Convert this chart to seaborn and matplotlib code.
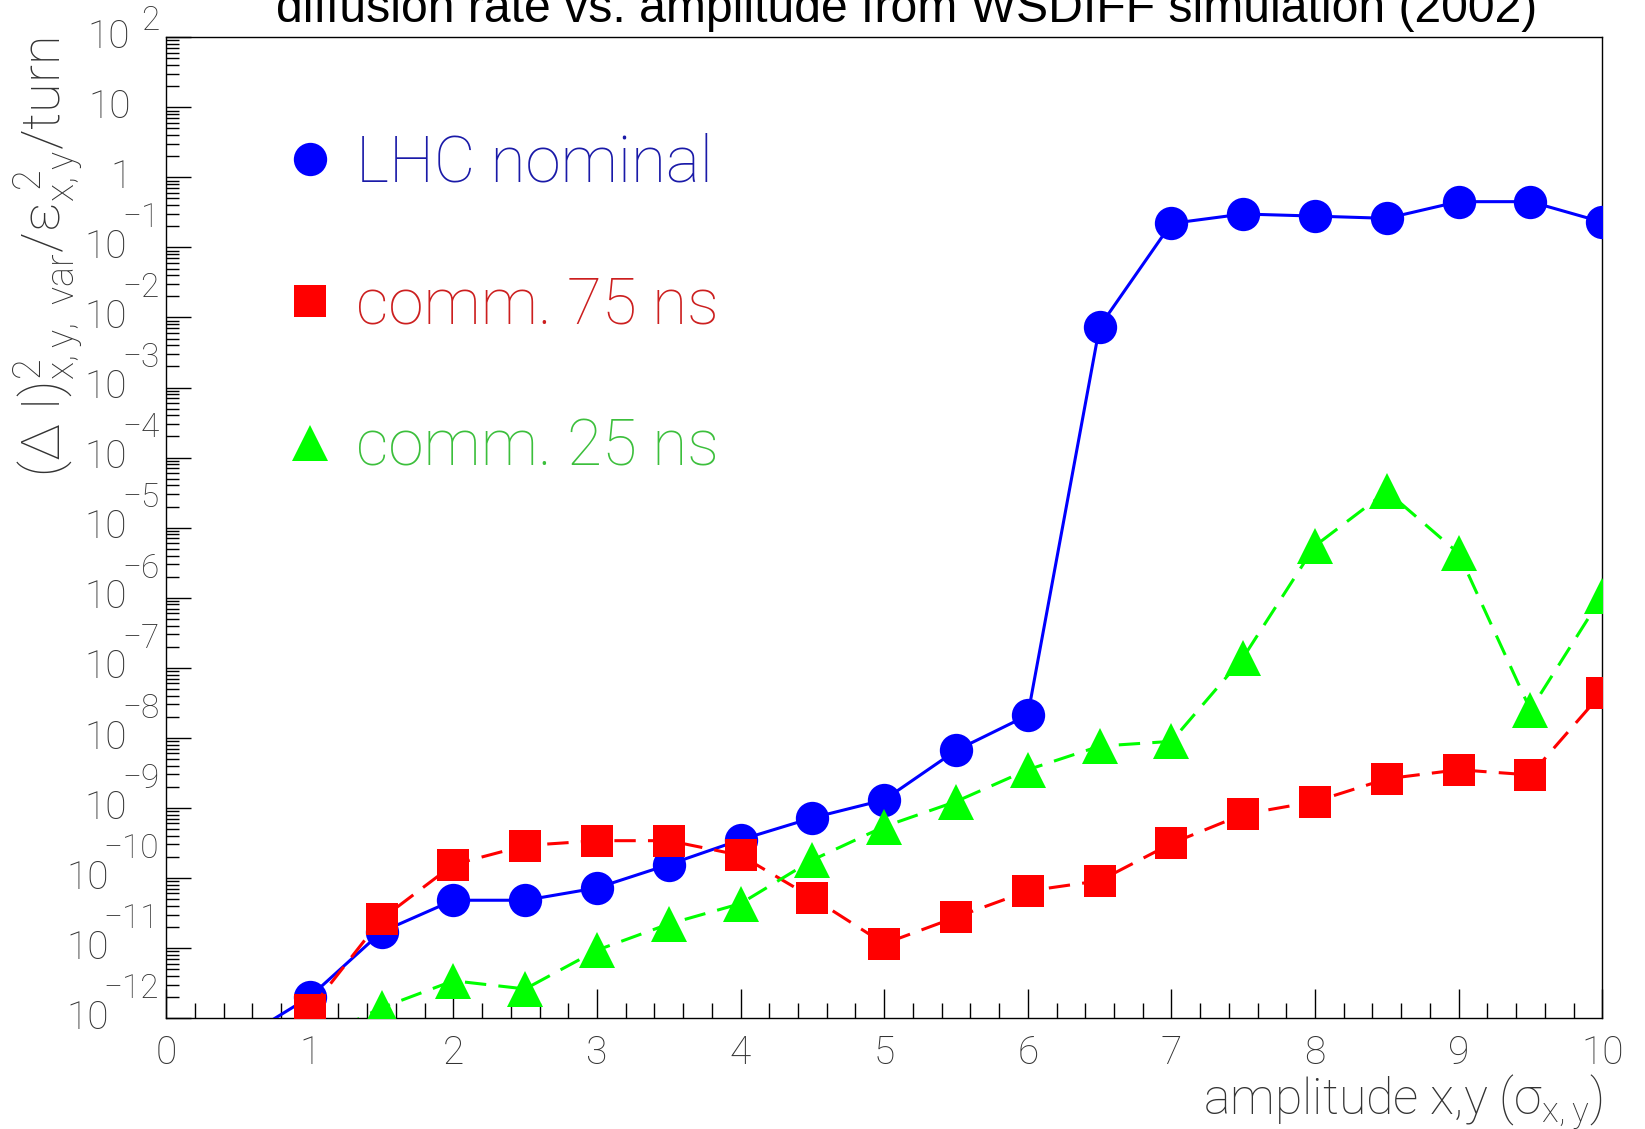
import numpy as np
import pandas as pd
import matplotlib
matplotlib.use("Agg")
import matplotlib.pyplot as plt
import seaborn as sns
from matplotlib.lines import Line2D
from matplotlib.ticker import LogLocator, MultipleLocator, NullFormatter
from matplotlib.font_manager import FontProperties

# ---- data -------------------------------------------------------------
amplitude_lhc = [0.5, 1.0, 1.5, 2.0, 2.5, 3.0, 3.5, 4.0, 4.5, 5.0, 5.5,
                 6.0, 6.5, 7.0, 7.5, 8.0, 8.5, 9.0, 9.5, 10.0]
rate_lhc = [4.7e-13, 2.0e-12, 1.7e-11, 4.8e-11, 4.8e-11, 7.2e-11, 1.55e-10,
            3.5e-10, 7.2e-10, 1.3e-9, 6.6e-9, 2.1e-8, 7.4e-3, 0.22, 0.30,
            0.28, 0.26, 0.45, 0.45, 0.23]

amplitude_75 = [1.0, 1.5, 2.0, 2.5, 3.0, 3.5, 4.0, 4.5, 5.0, 5.5,
                6.0, 6.5, 7.0, 7.5, 8.0, 8.5, 9.0, 9.5, 10.0]
rate_75 = [1.3e-12, 2.6e-11, 1.55e-10, 2.9e-10, 3.4e-10, 3.4e-10, 2.1e-10,
           5.2e-11, 1.15e-11, 2.75e-11, 6.5e-11, 9.1e-11, 3.1e-10, 8.1e-10,
           1.23e-9, 2.6e-9, 3.5e-9, 2.95e-9, 4.4e-8]

amplitude_25 = [1.0, 1.5, 2.0, 2.5, 3.0, 3.5, 4.0, 4.5, 5.0, 5.5,
                6.0, 6.5, 7.0, 7.5, 8.0, 8.5, 9.0, 9.5, 10.0]
rate_25 = [4.5e-13, 1.4e-12, 3.4e-12, 2.6e-12, 9.3e-12, 2.2e-11, 4.3e-11,
           1.8e-10, 5.4e-10, 1.23e-9, 3.5e-9, 7.6e-9, 8.9e-9, 1.4e-7,
           5.5e-6, 3.3e-5, 4.3e-6, 2.5e-8, 1.05e-6]

series_names = ["LHC nominal", "comm. 75 ns", "comm. 25 ns"]
series_x = [amplitude_lhc, amplitude_75, amplitude_25]
series_y = [rate_lhc, rate_75, rate_25]

x_ticks = [0, 1, 2, 3, 4, 5, 6, 7, 8, 9, 10]
y_decades = list(range(-12, 3))

title_text = "diffusion rate vs. amplitude from WSDIFF simulation (2002)"
x_title = r"amplitude x,y (σ$_{\mathrm{x,y}}$)"
y_title = r"(Δ I)$^{2}_{\mathrm{x,y,\ var}}$/ε$_{\mathrm{x,y}}^{\ 2}$/turn"

# ---- styling ----------------------------------------------------------
line_colors = ["#0000ff", "#ff0000", "#00ff00"]
text_colors = ["#1a1aa8", "#cc1f1f", "#3cbf3c"]
markers = ["o", "s", "^"]
marker_sizes = [24, 23, 26]
line_dashes = ["", (7, 4), (7, 4)]
label_gray = "#333333"
ui_font = "Roboto"
ui_weight = 100

plt.rcParams["font.family"] = [ui_font, "DejaVu Sans"]
plt.rcParams["font.weight"] = ui_weight
plt.rcParams["mathtext.fontset"] = "custom"
plt.rcParams["mathtext.rm"] = f"{ui_font}:weight={ui_weight}"
plt.rcParams["mathtext.it"] = f"{ui_font}:weight={ui_weight}"
plt.rcParams["mathtext.bf"] = f"{ui_font}:weight={ui_weight}"

fig = plt.figure(figsize=(16.45, 11.29), dpi=100)
fig.patch.set_facecolor("white")
ax = fig.add_axes([0.101, 0.0983, 0.873, 0.8687])

frames = []
for name, xs, ys in zip(series_names, series_x, series_y):
    frames.append(pd.DataFrame({"amplitude": xs, "rate": ys, "series": name}))
df = pd.concat(frames, ignore_index=True)

for i, name in enumerate(series_names):
    sub = df[df["series"] == name]
    sns.lineplot(data=sub, x="amplitude", y="rate", ax=ax,
                 color=line_colors[i], marker=markers[i],
                 markersize=marker_sizes[i], markeredgewidth=0,
                 linewidth=2.2, sort=False, estimator=None, legend=False,
                 zorder=3 + i)

for line, dash in zip(ax.get_lines(), line_dashes):
    if dash:
        line.set_dashes(dash)
    else:
        line.set_linestyle("-")

ax.set_yscale("log")
ax.set_xlim(0, 10)
ax.set_ylim(1e-12, 1e2)
ax.set_xlabel("")
ax.set_ylabel("")

ax.xaxis.set_minor_locator(MultipleLocator(0.2))
ax.set_xticks(x_ticks)
ax.set_xticklabels([str(t) for t in x_ticks])
ax.yaxis.set_major_locator(LogLocator(base=10, numticks=40))
ax.yaxis.set_minor_locator(LogLocator(base=10, subs=np.arange(2, 10), numticks=40))
ax.yaxis.set_major_formatter(NullFormatter())
ax.yaxis.set_minor_formatter(NullFormatter())

ax.tick_params(axis="x", which="major", direction="in", length=21, width=1.0,
               labelsize=28, labelcolor=label_gray, pad=12, top=False)
ax.tick_params(axis="x", which="minor", direction="in", length=11, width=1.0, top=False)
ax.tick_params(axis="y", which="major", direction="in", length=18, width=1.0, right=False)
ax.tick_params(axis="y", which="minor", direction="in", length=9, width=1.0, right=False)
for spine in ax.spines.values():
    spine.set_color("black")
    spine.set_linewidth(1.0)

# y tick labels drawn as base "10" with a raised exponent
ytrans = ax.get_yaxis_transform()
fig.canvas.draw()
renderer = fig.canvas.get_renderer()
axis_left_px = ax.transAxes.transform((0, 0))[0]
for k in y_decades:
    if k in (0, 1):
        ax.annotate("1" if k == 0 else "10", xy=(0, 10.0 ** k), xycoords=ytrans,
                    xytext=(-25, 0), textcoords="offset points", ha="right",
                    va="center", fontsize=28, color=label_gray)
        continue
    exp_txt = ("\u2212" + str(-k)) if k < 0 else str(k)
    raise_pt = 12 if k == y_decades[-1] else 21
    t = ax.annotate(exp_txt, xy=(0, 10.0 ** k), xycoords=ytrans,
                    xytext=(-5, raise_pt), textcoords="offset points", ha="right",
                    va="center", fontsize=24, color=label_gray)
    bb = t.get_window_extent(renderer)
    gap_px = 5 if k < 0 else -11
    off_pt = (bb.x0 + gap_px - axis_left_px) * 72.0 / fig.dpi
    ax.annotate("10", xy=(0, 10.0 ** k), xycoords=ytrans,
                xytext=(off_pt, 0), textcoords="offset points", ha="right",
                va="center", fontsize=28, color=label_gray)

# legend with marker-only entries
handles = [Line2D([], [], linestyle="none", marker=m, markersize=s,
                  markeredgewidth=0, color=c)
           for m, s, c in zip(markers, marker_sizes, line_colors)]
ax.legend(handles, series_names, loc="upper left", bbox_to_anchor=(0.078, 0.903),
          frameon=False, prop=FontProperties(family=ui_font, weight=ui_weight, size=46),
          labelcolor=text_colors, handlelength=1.0, handletextpad=0.22,
          labelspacing=1.25, borderaxespad=0, borderpad=0)

# titles
fig.text(0.5514, 0.9805, title_text, ha="center", va="baseline",
         fontsize=34.7, family="Liberation Sans", weight="normal", color="black")
fig.text(0.974, 0.0135, x_title, ha="right", va="baseline",
         fontsize=36, color=label_gray)
fig.text(0.029, 0.967, y_title, ha="center", va="top", rotation=90,
         fontsize=39, color=label_gray)

fig.savefig("out.png", dpi=100, facecolor="white")
